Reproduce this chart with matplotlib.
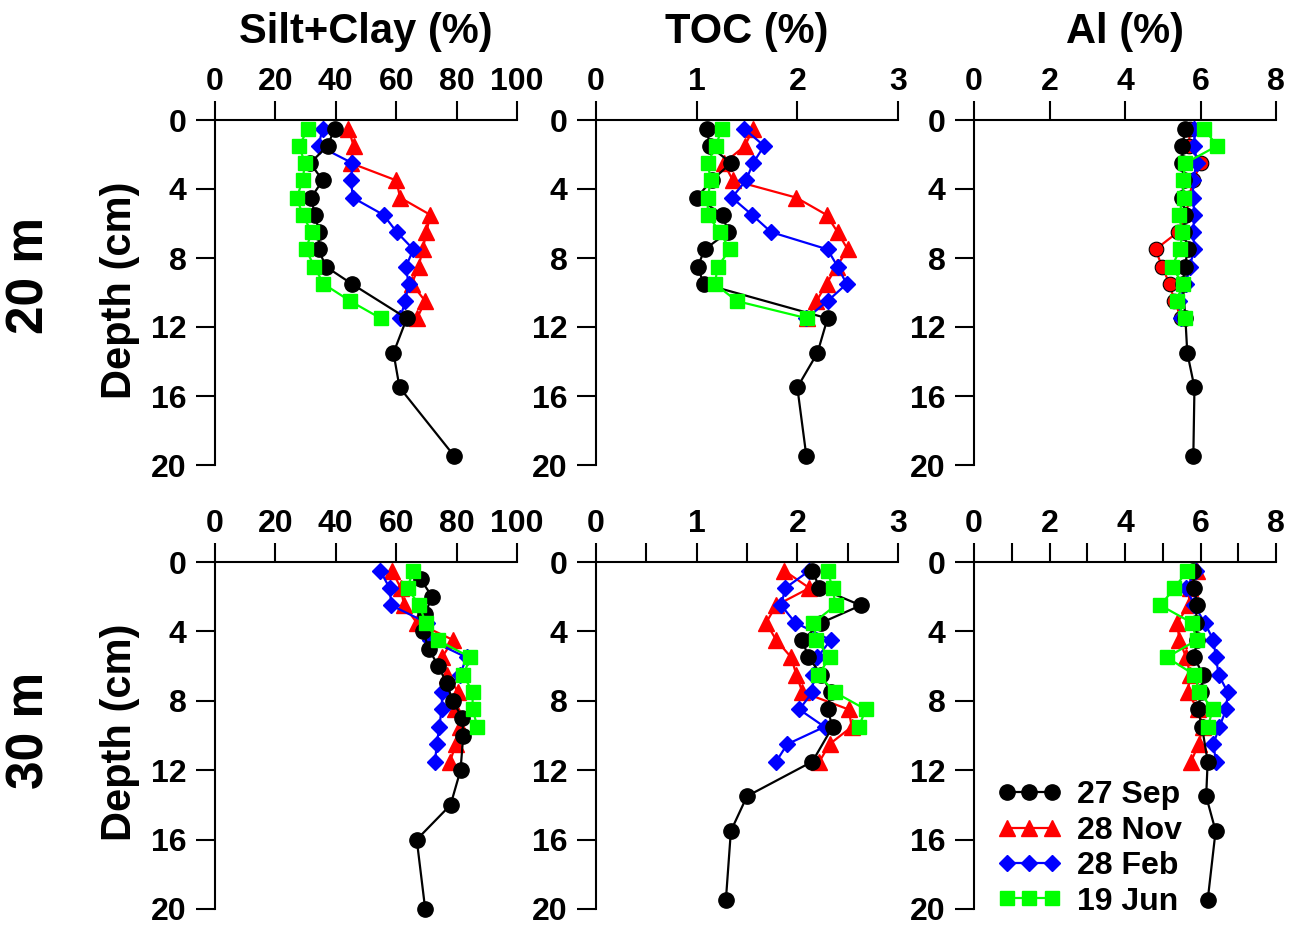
import matplotlib.pyplot as plt

plt.rcParams['font.family'] = ['Liberation Sans', 'DejaVu Sans']
plt.rcParams['font.weight'] = 'bold'

# depths (cm)
d_black = [0.5, 1.5, 2.5, 3.5, 4.5, 5.5, 6.5, 7.5, 8.5, 9.5, 11.5, 13.5, 15.5, 19.5]
d_black_sc30 = [1, 2, 3, 4, 5, 6, 7, 8, 9, 10, 12, 14, 16, 20]
d_12 = [0.5, 1.5, 2.5, 3.5, 4.5, 5.5, 6.5, 7.5, 8.5, 9.5, 10.5, 11.5]
d_10 = [0.5, 1.5, 2.5, 3.5, 4.5, 5.5, 6.5, 7.5, 8.5, 9.5]

series_names = ['27 Sep', '28 Nov', '28 Feb', '19 Jun']

# 20 m station
sc20_sep = [39.6, 37.3, 31.5, 35.7, 31.8, 33.1, 34.5, 34.3, 36.7, 45.3, 63.5, 59.1, 61.1, 79.3]
sc20_nov = [44.2, 45.9, 45.0, 60.0, 61.3, 71.3, 70.0, 68.8, 67.4, 65.2, 69.6, 66.9]
sc20_feb = [35.6, 34.3, 45.5, 45.1, 45.6, 55.8, 60.2, 65.7, 63.2, 64.1, 63.0, 61.3]
sc20_jun = [30.9, 27.8, 29.8, 29.0, 27.1, 29.0, 32.0, 30.1, 32.9, 35.9, 44.8, 54.9]

toc20_sep = [1.10, 1.13, 1.34, 1.15, 1.00, 1.26, 1.31, 1.08, 1.01, 1.07, 2.30, 2.20, 2.00, 2.09]
toc20_nov = [1.56, 1.48, 1.27, 1.36, 1.99, 2.29, 2.40, 2.50, 2.39, 2.29, 2.19, 2.10]
toc20_feb = [1.47, 1.67, 1.56, 1.49, 1.35, 1.55, 1.74, 2.30, 2.40, 2.49, 2.30, 2.09]
toc20_jun = [1.25, 1.19, 1.11, 1.14, 1.11, 1.11, 1.23, 1.33, 1.21, 1.18, 1.40, 2.10]

al20_sep = [5.60, 5.52, 5.52, 5.55, 5.52, 5.60, 5.55, 5.67, 5.58, 5.53, 5.60, 5.65, 5.84, 5.81]
al20_nov = [5.71, 5.70, 6.02, 5.80, 5.70, 5.62, 5.40, 4.81, 4.98, 5.18, 5.31, 5.49]
al20_feb = [5.84, 5.84, 5.90, 5.80, 5.80, 5.84, 5.80, 5.84, 5.71, 5.62, 5.44, 5.49]
al20_jun = [6.09, 6.44, 5.60, 5.53, 5.56, 5.42, 5.52, 5.46, 5.24, 5.53, 5.37, 5.60]

# 30 m station
sc30_sep = [68.1, 71.9, 69.5, 69.0, 70.7, 74.0, 76.7, 78.7, 81.9, 82.2, 81.3, 78.0, 66.8, 69.6]
sc30_nov = [58.6, 61.5, 62.6, 66.8, 78.9, 75.1, 76.9, 80.5, 79.4, 81.1, 79.8, 77.8]
sc30_feb = [54.7, 57.8, 58.4, 70.1, 71.2, 83.3, 81.1, 75.3, 75.0, 74.3, 73.4, 72.9]
sc30_jun = [65.5, 63.8, 67.6, 69.8, 73.7, 84.6, 82.2, 85.3, 85.3, 86.9]

toc30_sep = [2.15, 2.22, 2.63, 2.24, 2.05, 2.11, 2.24, 2.33, 2.30, 2.35, 2.15, 1.50, 1.34, 1.29]
toc30_nov = [1.87, 2.12, 1.79, 1.69, 1.79, 1.94, 1.99, 2.05, 2.51, 2.54, 2.32, 2.22]
toc30_feb = [2.12, 1.88, 1.84, 1.98, 2.33, 2.20, 2.16, 2.15, 2.02, 2.27, 1.90, 1.79]
toc30_jun = [2.30, 2.35, 2.38, 2.16, 2.19, 2.32, 2.21, 2.37, 2.68, 2.61]

al30_sep = [5.80, 5.84, 5.91, 5.87, 5.90, 5.84, 6.06, 6.02, 5.93, 6.04, 6.19, 6.15, 6.40, 6.19]
al30_nov = [5.90, 5.71, 5.69, 5.38, 5.44, 5.62, 5.73, 5.66, 5.93, 6.06, 5.95, 5.75]
al30_feb = [5.89, 5.62, 5.84, 6.11, 6.34, 6.41, 6.48, 6.72, 6.68, 6.50, 6.34, 6.41]
al30_jun = [5.65, 5.31, 4.94, 5.77, 5.90, 5.11, 5.84, 5.97, 6.33, 6.19]

titles = ['Silt+Clay (%)', 'TOC (%)', 'Al (%)']
row_labels = ['20 m', '30 m']

W, H = 1303, 927
fig = plt.figure(figsize=(W / 100, H / 100), dpi=100)

col_left = [215, 596, 974]
col_w = 302
row_top = [120, 562]
row_h = [345, 347]

xlims = [(0, 100), (0, 3), (0, 8)]
major = [[0, 20, 40, 60, 80, 100], [0, 1, 2, 3], [0, 2, 4, 6, 8]]
minor_top = [[], [], []]
minor_bot = [[], [0.5, 1.5, 2.5], [1, 3, 5, 7]]

red_mk_top = ['^', '^', 'o']

data = [
    [(d_black, sc20_sep, d_12, sc20_nov, d_12, sc20_feb, d_12, sc20_jun),
     (d_black, toc20_sep, d_12, toc20_nov, d_12, toc20_feb, d_12, toc20_jun),
     (d_black, al20_sep, d_12, al20_nov, d_12, al20_feb, d_12, al20_jun)],
    [(d_black_sc30, sc30_sep, d_12, sc30_nov, d_12, sc30_feb, d_10, sc30_jun),
     (d_black, toc30_sep, d_12, toc30_nov, d_12, toc30_feb, d_10, toc30_jun),
     (d_black, al30_sep, d_12, al30_nov, d_12, al30_feb, d_10, al30_jun)],
]

lw = 1.6
for r in range(2):
    for c in range(3):
        ax = fig.add_axes([col_left[c] / W, 1 - (row_top[r] + row_h[r]) / H,
                           col_w / W, row_h[r] / H])
        dk, vk, dr, vr, db, vb, dg, vg = data[r][c]
        rm = red_mk_top[c] if r == 0 else '^'
        rkw = dict(mec='k', mew=0.8, ms=10.5) if rm == 'o' else dict(mec='red', ms=11)
        ax.plot(vr, dr, color='red', marker=rm, lw=lw, clip_on=False,
                label=series_names[1], **rkw)
        ax.plot(vb, db, color='blue', marker='D', ms=8.5, lw=lw, clip_on=False,
                label=series_names[2])
        ax.plot(vk, dk, color='black', marker='o', ms=11, lw=lw, clip_on=False,
                label=series_names[0])
        ax.plot(vg, dg, color='#00ff00', marker='s', ms=9.5, lw=lw, clip_on=False,
                label=series_names[3])

        ax.set_xlim(*xlims[c])
        ax.set_ylim(20, 0)
        ax.xaxis.tick_top()
        ax.set_xticks(major[c])
        ax.set_xticks(minor_bot[c] if r == 1 else minor_top[c], minor=True)
        ax.set_yticks([0, 4, 8, 12, 16, 20])
        for s in ['bottom', 'right']:
            ax.spines[s].set_visible(False)
        for s in ['top', 'left']:
            ax.spines[s].set_linewidth(1.5)
        ax.tick_params(which='both', direction='out', length=13.5, width=1.5,
                       labelsize=23)
        ax.tick_params(axis='x', which='both', pad=3)
        ax.tick_params(axis='y', pad=7)
        for lab in ax.get_xticklabels() + ax.get_yticklabels():
            lab.set_fontweight('bold')

        if r == 1 and c == 2:
            h, l = ax.get_legend_handles_labels()
            order = [2, 0, 1, 3]
            ax.legend([h[i] for i in order], [l[i] for i in order],
                      loc='lower left', bbox_to_anchor=(0.025, -0.068),
                      frameon=False, numpoints=3, handlelength=2.0,
                      handletextpad=0.5, labelspacing=0.17, borderpad=0,
                      prop={'size': 23, 'weight': 'bold'})

for c in range(3):
    fig.text((col_left[c] + col_w / 2) / W, 1 - 32 / H, titles[c],
             ha='center', va='center', fontsize=30, fontweight='bold')

row_centers = [275, 730]
depth_centers = [290, 732]
for r in range(2):
    fig.text(30 / W, 1 - row_centers[r] / H, row_labels[r], rotation=90,
             ha='center', va='center', fontsize=37, fontweight='bold')
    fig.text(120 / W, 1 - depth_centers[r] / H, 'Depth (cm)', rotation=90,
             ha='center', va='center', fontsize=30, fontweight='bold')

fig.savefig('out.png', dpi=100)
